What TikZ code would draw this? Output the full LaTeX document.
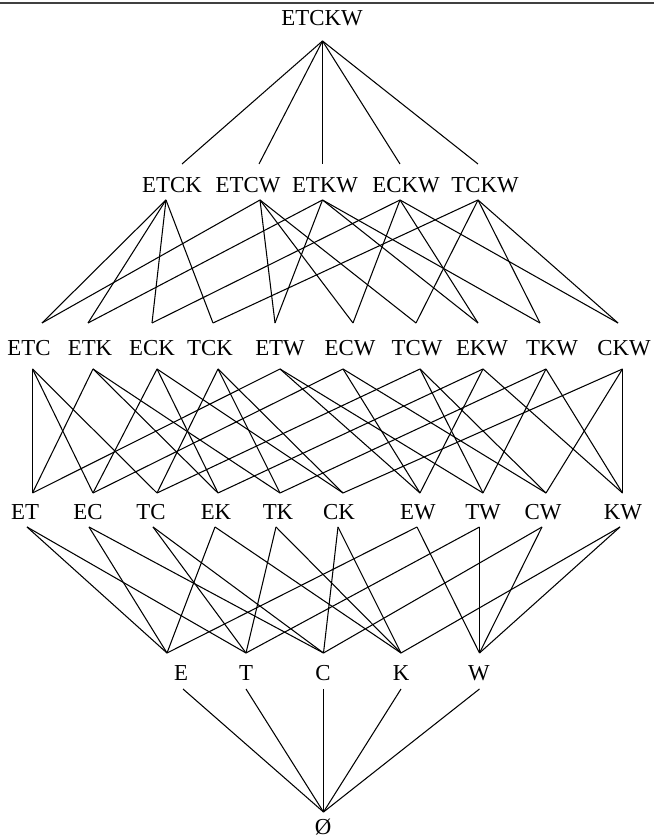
\documentclass[tikz,border=0pt]{standalone}
\usepackage{fontspec}
\setmainfont{Liberation Serif}
\begin{document}
\begin{tikzpicture}[scale=1.0,
  lbl/.style={inner sep=0pt, font=\fontsize{13}{15}\selectfont},
  lnk/.style={line width=0.6pt}]
\useasboundingbox (0,0) rectangle (13.08,16.78);
\draw[line width=0.9pt, black!75] (0,16.72) -- (13.08,16.72);

\node[lbl] (etckw) at (6.44,16.42) {ETCKW};
\coordinate (etckw-d) at (6.45,15.96);

\node[lbl] (etck) at (3.44,13.08) {ETCK};
\node[lbl] (etcw) at (4.96,13.08) {ETCW};
\node[lbl] (etkw) at (6.50,13.08) {ETKW};
\node[lbl] (eckw) at (8.12,13.08) {ECKW};
\node[lbl] (tckw) at (9.70,13.08) {TCKW};
\foreach \n/\u/\d in {etck/3.64/3.32, etcw/5.18/5.20, etkw/6.45/6.45, eckw/8.00/8.00, tckw/9.56/9.56}{
  \coordinate (\n-u) at (\u,13.50);
  \coordinate (\n-d) at (\d,12.78);
}

\node[lbl] (etc) at (0.58,9.82) {ETC};
\node[lbl] (etk) at (1.80,9.82) {ETK};
\node[lbl] (eck) at (3.04,9.82) {ECK};
\node[lbl] (tck) at (4.20,9.82) {TCK};
\node[lbl] (etw) at (5.60,9.82) {ETW};
\node[lbl] (ecw) at (7.00,9.82) {ECW};
\node[lbl] (tcw) at (8.34,9.82) {TCW};
\node[lbl] (ekw) at (9.64,9.82) {EKW};
\node[lbl] (tkw) at (11.04,9.82) {TKW};
\node[lbl] (ckw) at (12.48,9.82) {CKW};
\foreach \n/\u/\d in {etc/0.84/0.65, etk/1.76/1.86, eck/3.04/3.14, tck/4.26/4.36, etw/5.50/5.60,
  ecw/7.06/6.86, tcw/8.32/8.40, ekw/9.56/9.66, tkw/10.80/10.92, ckw/12.36/12.45}{
  \coordinate (\n-u) at (\u,10.32);
  \coordinate (\n-d) at (\d,9.40);
}

\node[lbl] (et) at (0.50,6.54) {ET};
\node[lbl] (ec) at (1.76,6.54) {EC};
\node[lbl] (tc) at (3.02,6.54) {TC};
\node[lbl] (ek) at (4.32,6.54) {EK};
\node[lbl] (tk) at (5.56,6.54) {TK};
\node[lbl] (ck) at (6.78,6.54) {CK};
\node[lbl] (ew) at (8.36,6.54) {EW};
\node[lbl] (tw) at (9.66,6.54) {TW};
\node[lbl] (cw) at (10.86,6.54) {CW};
\node[lbl] (kw) at (12.46,6.54) {KW};
\foreach \n/\u/\d in {et/0.65/0.54, ec/1.86/1.78, tc/3.14/3.06, ek/4.36/4.30, tk/5.60/5.52,
  ck/6.86/6.76, ew/8.40/8.34, tw/9.66/9.59, cw/10.92/10.84, kw/12.45/12.40}{
  \coordinate (\n-u) at (\u,6.92);
  \coordinate (\n-d) at (\d,6.24);
}

\node[lbl] (e) at (3.62,3.32) {E};
\node[lbl] (t) at (4.92,3.32) {T};
\node[lbl] (c) at (6.46,3.32) {C};
\node[lbl] (k) at (8.02,3.32) {K};
\node[lbl] (w) at (9.58,3.32) {W};
\foreach \n/\u/\d in {e/3.34/3.66, t/4.92/4.92, c/6.47/6.47, k/8.02/8.02, w/9.59/9.59}{
  \coordinate (\n-u) at (\u,3.72);
  \coordinate (\n-d) at (\d,3.00);
}

\node[lbl] (nul) at (6.46,0.24) {Ø};
\coordinate (nul-u) at (6.47,0.54);

\foreach \a/\b in {etckw/etck, etckw/etcw, etckw/etkw, etckw/eckw, etckw/tckw,
  etck/etc, etck/etk, etck/eck, etck/tck, etcw/etc, etcw/etw, etcw/ecw, etcw/tcw,
  etkw/etk, etkw/etw, etkw/ekw, etkw/tkw, eckw/eck, eckw/ecw, eckw/ekw, eckw/ckw,
  tckw/tck, tckw/tcw, tckw/tkw, tckw/ckw,
  etc/et, etc/ec, etc/tc, etk/et, etk/ek, etk/tk, eck/ec, eck/ek, eck/ck,
  tck/tc, tck/tk, tck/ck, etw/et, etw/ew, etw/tw, ecw/ec, ecw/ew, ecw/cw,
  tcw/tc, tcw/tw, tcw/cw, ekw/ek, ekw/ew, ekw/kw, tkw/tk, tkw/tw, tkw/kw,
  ckw/ck, ckw/cw, ckw/kw,
  et/e, et/t, ec/e, ec/c, tc/t, tc/c, ek/e, ek/k, tk/t, tk/k, ck/c, ck/k,
  ew/e, ew/w, tw/t, tw/w, cw/c, cw/w, kw/k, kw/w,
  e/nul, t/nul, c/nul, k/nul, w/nul}
  \draw[lnk] (\a-d) -- (\b-u);
\end{tikzpicture}
\end{document}
